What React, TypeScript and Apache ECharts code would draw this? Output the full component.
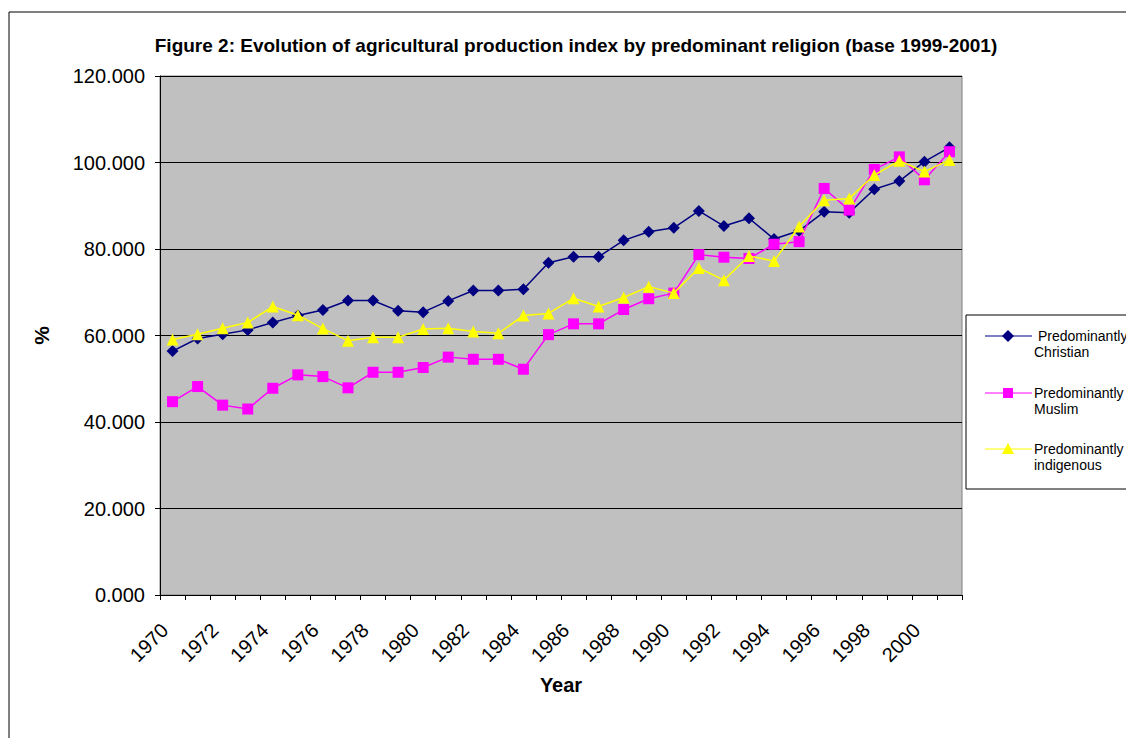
import React, { useEffect, useRef } from "react";
import * as echarts from "echarts";

const years = ["1970","1971","1972","1973","1974","1975","1976","1977","1978","1979","1980","1981","1982","1983","1984","1985","1986","1987","1988","1989","1990","1991","1992","1993","1994","1995","1996","1997","1998","1999","2000","2001"];
const christian = [56.4,59.3,60.3,61.3,63.0,64.6,65.9,68.1,68.1,65.7,65.4,68.0,70.4,70.4,70.7,76.8,78.2,78.2,82.0,84.0,84.9,88.8,85.3,87.1,82.3,84.2,88.6,88.4,93.8,95.7,100.2,103.5];
const muslim = [44.7,48.2,43.9,43.0,47.8,50.9,50.5,47.9,51.5,51.5,52.6,55.0,54.5,54.5,52.2,60.2,62.7,62.7,66.0,68.5,69.8,78.7,78.1,77.8,81.1,81.7,94.0,89.0,98.4,101.3,96.0,102.5];
const indigenous = [59.1,60.3,61.7,63.0,66.7,64.7,61.6,58.8,59.6,59.6,61.5,61.7,60.9,60.5,64.6,65.1,68.6,66.7,68.8,71.3,69.8,75.6,72.8,78.4,77.2,85.2,91.3,91.7,97.1,100.4,97.9,100.6];
const seriesNames = ["Predominantly Christian", "Predominantly Muslim", "Predominantly indigenous"];
const legendLines = [[" Predominantly", "Christian"], ["Predominantly", "Muslim"], ["Predominantly", "indigenous"]];
const colors = ["#000080", "#FF00FF", "#FFFF00"];
const titleText = "Figure 2: Evolution of agricultural production index by predominant religion (base 1999-2001)";

const FONT = "Arial, 'Liberation Sans', sans-serif";

export default function App() {
  const ref = useRef<HTMLDivElement>(null);
  useEffect(() => {
    if (!ref.current) return;
    const chart = echarts.init(ref.current, null, { renderer: "svg" });
    const legendYs = [336, 393, 449];
    const legendGraphics: any[] = [];
    legendYs.forEach((cy, i) => {
      legendGraphics.push({
        type: "line",
        shape: { x1: 985, y1: cy, x2: 1032, y2: cy },
        style: { stroke: colors[i], lineWidth: 1.2 },
      });
      if (i === 0) {
        legendGraphics.push({
          type: "polygon",
          shape: { points: [[1008, cy - 6], [1014, cy], [1008, cy + 6], [1002, cy]] },
          style: { fill: colors[i] },
        });
      } else if (i === 1) {
        legendGraphics.push({
          type: "rect",
          shape: { x: 1003, y: cy - 5, width: 10, height: 10 },
          style: { fill: colors[i] },
        });
      } else {
        legendGraphics.push({
          type: "polygon",
          shape: { points: [[1008, cy - 6], [1014, cy + 5], [1002, cy + 5]] },
          style: { fill: colors[i] },
        });
      }
      legendGraphics.push({
        type: "text",
        x: 1034,
        y: cy,
        style: { text: legendLines[i][0], font: `14px ${FONT}`, fill: "#000", verticalAlign: "middle" },
      });
      legendGraphics.push({
        type: "text",
        x: 1034,
        y: cy + 16,
        style: { text: legendLines[i][1], font: `14px ${FONT}`, fill: "#000", verticalAlign: "middle" },
      });
    });

    const option: any = {
      animation: false,
      backgroundColor: "#fff",
      textStyle: { fontFamily: FONT },
      graphic: [
        {
          type: "rect",
          shape: { x: 9, y: 12, width: 1130, height: 740 },
          style: { fill: "none", stroke: "#000", lineWidth: 1 },
          z: 0,
        },
        {
          type: "text",
          x: 576,
          y: 45,
          style: { text: titleText, font: `bold 19px ${FONT}`, fill: "#000", align: "center", verticalAlign: "middle" },
        },
        {
          type: "rect",
          shape: { x: 966, y: 315, width: 200, height: 174 },
          style: { fill: "#fff", stroke: "#000", lineWidth: 1 },
        },
        ...legendGraphics,
      ],
      grid: {
        left: 160,
        right: 164,
        top: 76,
        bottom: 143,
        show: true,
        backgroundColor: "#C0C0C0",
        borderColor: "#808080",
        borderWidth: 1,
      },
      xAxis: {
        type: "category",
        data: years,
        boundaryGap: true,
        name: "Year",
        nameLocation: "middle",
        nameGap: 80,
        nameTextStyle: { fontSize: 20, fontWeight: "bold", color: "#000", fontFamily: FONT },
        axisLine: { lineStyle: { color: "#000", width: 1 } },
        axisTick: { show: true, interval: 0, length: 5, lineStyle: { color: "#000" } },
        axisLabel: { interval: 1, rotate: 45, fontSize: 20, color: "#000", fontFamily: FONT, margin: 24, padding: [0, 11, 0, 0] },
        splitLine: { show: false },
      },
      yAxis: {
        type: "value",
        min: 0,
        max: 120,
        interval: 20,
        name: "%",
        nameLocation: "middle",
        nameRotate: 90,
        nameGap: 108,
        nameTextStyle: { fontSize: 21, fontWeight: "bold", color: "#000", fontFamily: FONT },
        axisLine: { show: true, lineStyle: { color: "#000", width: 1 } },
        axisTick: { show: true, length: 5, lineStyle: { color: "#000" } },
        axisLabel: { fontSize: 20, color: "#000", fontFamily: FONT, margin: 15, formatter: (v: number) => v.toFixed(3) },
        splitLine: { show: true, lineStyle: { color: "#000", width: 1 } },
      },
      series: [
        {
          name: seriesNames[0],
          type: "line",
          data: christian,
          symbol: "diamond",
          symbolSize: 12,
          itemStyle: { color: colors[0] },
          lineStyle: { color: colors[0], width: 1.5 },
          z: 3,
        },
        {
          name: seriesNames[1],
          type: "line",
          data: muslim,
          symbol: "rect",
          symbolSize: 11,
          itemStyle: { color: colors[1] },
          lineStyle: { color: colors[1], width: 1.5 },
          z: 4,
        },
        {
          name: seriesNames[2],
          type: "line",
          data: indigenous,
          symbol: "triangle",
          symbolSize: 12,
          itemStyle: { color: colors[2] },
          lineStyle: { color: colors[2], width: 1.5 },
          z: 5,
        },
      ],
    };
    chart.setOption(option);
    return () => chart.dispose();
  }, []);
  return <div ref={ref} style={{ position: "absolute", left: 0, top: 0, width: 1126, height: 738 }} />;
}
